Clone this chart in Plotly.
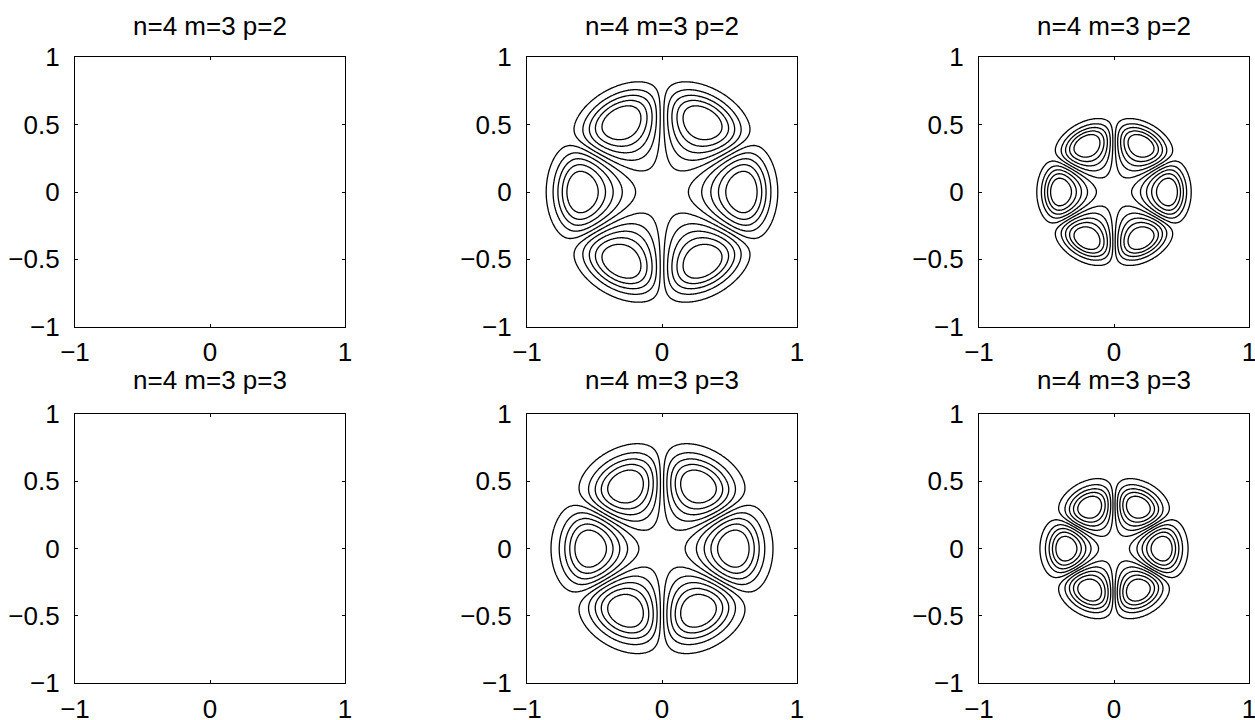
import numpy as np
import plotly.graph_objects as go

# ---------------- data ----------------
PANEL_TITLES = [["n=4 m=3 p=2", "n=4 m=3 p=2", "n=4 m=3 p=2"],
                ["n=4 m=3 p=3", "n=4 m=3 p=3", "n=4 m=3 p=3"]]
M_ORDER = 3                      # angular order (6 lobes)
# radius of the lobe maxima per panel (column 1 is empty)
PEAK_RADIUS = [[None, 0.600, 0.400],
               [None, 0.535, 0.357]]
INNER_EXPONENT = [2.4, 2.5]      # radial rise exponent per row
OUTER_EXPONENT = [6.2, 4.6]      # radial fall-off exponent per row
ANGULAR_EXPONENT = 0.85
CONTOUR_LEVELS = [0.10, 0.265, 0.43, 0.595, 0.76]
TICK_VALUES = [-1, -0.5, 0, 0.5, 1]
X_TICK_VALUES = [-1, 0, 1]
X_TICK_LABELS = ["−1", "0", "1"]
Y_TICK_LABELS = ["−1", "−0.5", "0", "0.5", "1"]

GRID = np.linspace(-1, 1, 261)

# ---------------- layout geometry ----------------
W, H = 1255, 720
COL_PX = [(75, 345), (527, 797), (979, 1249)]
ROW_PX = [(57.3, 326.7), (414, 683.3)]
TITLE_Y_PX = [26, 380]
FONT = "Liberation Sans, Arial, Helvetica, sans-serif"
FSIZE = 26


def field(rp, a, b):
    X, Y = np.meshgrid(GRID, GRID)
    r = np.hypot(X, Y)
    th = np.arctan2(Y, X)
    u = r / rp
    radial = np.where(u > 0, u ** a * np.exp((a / b) * (1 - u ** b)), 0.0)
    ang = np.abs(np.cos(M_ORDER * th)) ** ANGULAR_EXPONENT
    return np.round(radial * ang, 5)


fig = go.Figure()
layout = dict(width=W, height=H, margin=dict(l=0, r=0, t=0, b=0, autoexpand=False),
              paper_bgcolor="white", plot_bgcolor="white",
              showlegend=False, annotations=[])

lv_step = CONTOUR_LEVELS[1] - CONTOUR_LEVELS[0]
k = 0
for ri in range(2):
    for ci in range(3):
        k += 1
        xa = "x" if k == 1 else f"x{k}"
        ya = "y" if k == 1 else f"y{k}"
        xkey = "xaxis" if k == 1 else f"xaxis{k}"
        ykey = "yaxis" if k == 1 else f"yaxis{k}"
        x0, x1 = COL_PX[ci]
        t0, t1 = ROW_PX[ri]
        common = dict(range=[-1, 1], ticks="inside",
                      ticklen=3, tickwidth=1, tickcolor="black",
                      showline=True, linecolor="black", linewidth=1.3,
                      mirror="ticks", showgrid=False, zeroline=False,
                      automargin=False, ticklabeloverflow="allow",
                      tickfont=dict(family=FONT, size=FSIZE, color="black"),
                      fixedrange=True)
        layout[xkey] = dict(common, domain=[x0 / W, x1 / W], anchor=ya,
                            tickvals=X_TICK_VALUES, ticktext=X_TICK_LABELS,
                            ticklabelstandoff=2)
        layout[ykey] = dict(common, domain=[1 - t1 / H, 1 - t0 / H], anchor=xa,
                            tickvals=TICK_VALUES, ticktext=Y_TICK_LABELS,
                            ticklabelstandoff=9)
        layout["annotations"].append(dict(
            text=PANEL_TITLES[ri][ci], xref="paper", yref="paper",
            x=(x0 + x1) / 2 / W, y=1 - TITLE_Y_PX[ri] / H,
            xanchor="center", yanchor="middle", showarrow=False,
            font=dict(family=FONT, size=FSIZE, color="black")))
        rp = PEAK_RADIUS[ri][ci]
        if rp is None:
            fig.add_trace(go.Scatter(x=[], y=[], xaxis=xa, yaxis=ya))
        else:
            z = field(rp, INNER_EXPONENT[ri], OUTER_EXPONENT[ri])
            fig.add_trace(go.Contour(
                x=GRID, y=GRID, z=z, xaxis=xa, yaxis=ya,
                contours=dict(coloring="lines", start=CONTOUR_LEVELS[0],
                              end=CONTOUR_LEVELS[-1] + 1e-3, size=lv_step),
                colorscale=[[0, "black"], [1, "black"]],
                line=dict(width=1.3, smoothing=1),
                showscale=False, hoverinfo="skip"))

fig.update_layout(**layout)
fig.write_html("out.html", config={"displayModeBar": False},
               post_script="document.body.style.margin='0';"
                           "document.body.style.overflow='hidden';")
